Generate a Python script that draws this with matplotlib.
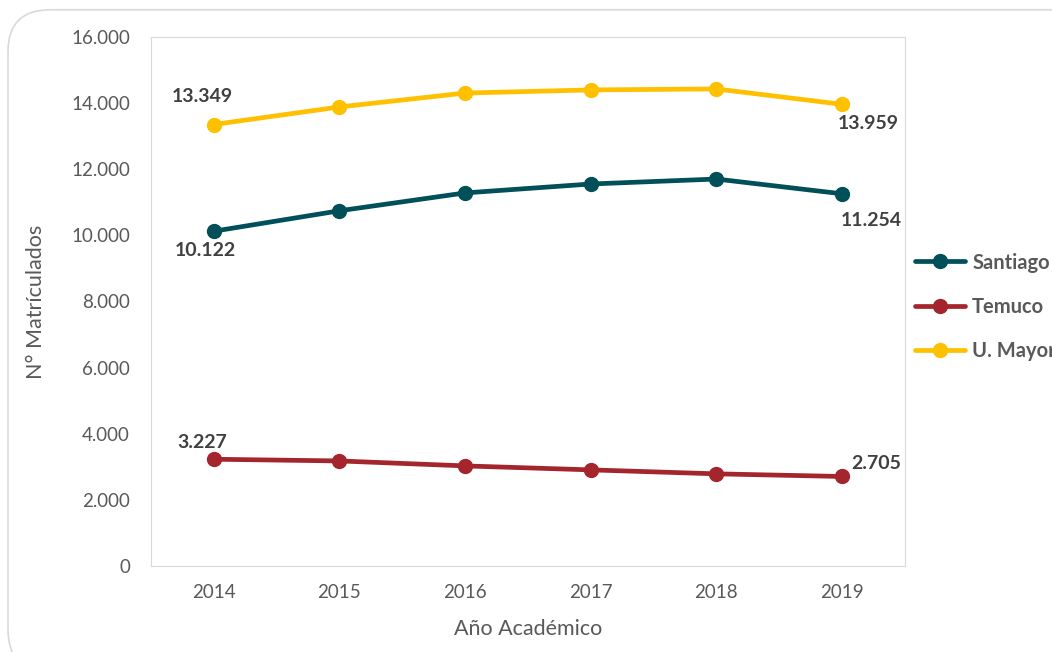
import matplotlib.pyplot as plt
from matplotlib.patches import FancyBboxPatch
from matplotlib.ticker import FuncFormatter

plt.rcParams["font.family"] = ["Lato", "DejaVu Sans"]

years = ["2014", "2015", "2016", "2017", "2018", "2019"]
santiago = [10122, 10740, 11280, 11550, 11700, 11254]
temuco = [3227, 3175, 3025, 2905, 2785, 2705]
umayor = [13349, 13880, 14300, 14395, 14425, 13959]

series = [
    ("Santiago", santiago, "#004F59"),
    ("Temuco", temuco, "#A5252D"),
    ("U. Mayor", umayor, "#FFC000"),
]
gray = "#595959"


def fmt(v):
    return f"{int(v):,}".replace(",", ".")


fig = plt.figure(figsize=(10.52, 6.52), dpi=100)
fig.patches.append(FancyBboxPatch((0.0076, -0.03), 1.2, 1.015, boxstyle="round,pad=0,rounding_size=0.04",
                                  transform=fig.transFigure, fc="white", ec="#D9D9D9", lw=1.2,
                                  mutation_aspect=1.6, zorder=-1))
ax = fig.add_axes([0.1435, 0.132, 0.7165, 0.8115])
x = list(range(len(years)))
for name, vals, col in series:
    ax.plot(x, vals, color=col, lw=3.4, marker="o", ms=10, label=name, solid_capstyle="round")

lab = dict(fontsize=14, fontweight="bold", color="#404040", ha="center", va="center",
           textcoords="offset points")
ax.annotate(fmt(umayor[0]), (0, umayor[0]), xytext=(-8, 20), **lab)
ax.annotate(fmt(umayor[-1]), (5, umayor[-1]), xytext=(19, -14), **lab)
ax.annotate(fmt(santiago[0]), (0, santiago[0]), xytext=(-6, -14), **lab)
ax.annotate(fmt(santiago[-1]), (5, santiago[-1]), xytext=(21, -19), **lab)
ax.annotate(fmt(temuco[0]), (0, temuco[0]), xytext=(-8, 12), **lab)
ax.annotate(fmt(temuco[-1]), (5, temuco[-1]), xytext=(25, 9), **lab)

ax.set_xlim(-0.5, 5.5)
ax.set_ylim(0, 16000)
ax.set_yticks(range(0, 16001, 2000))
ax.yaxis.set_major_formatter(FuncFormatter(lambda v, p: fmt(v)))
ax.set_xticks(x)
ax.set_xticklabels(years)
ax.tick_params(length=0, labelsize=13.5, colors=gray)
ax.tick_params(axis="y", pad=15)
ax.tick_params(axis="x", pad=13)
for s in ax.spines.values():
    s.set_color("#D9D9D9")
ax.set_xlabel("Año Académico", fontsize=15.5, color=gray, labelpad=13)
ax.set_ylabel("N° Matrículados", fontsize=15.5, color=gray, labelpad=18)

leg = ax.legend(loc="center left", bbox_to_anchor=(1.0, 0.49), frameon=False, fontsize=14.5,
                labelspacing=1.2, handlelength=2.5, handletextpad=0.35, borderpad=0,
                borderaxespad=0.5)
for t in leg.get_texts():
    t.set_color(gray)
    t.set_fontweight("bold")

fig.savefig("out.png", dpi=100)
